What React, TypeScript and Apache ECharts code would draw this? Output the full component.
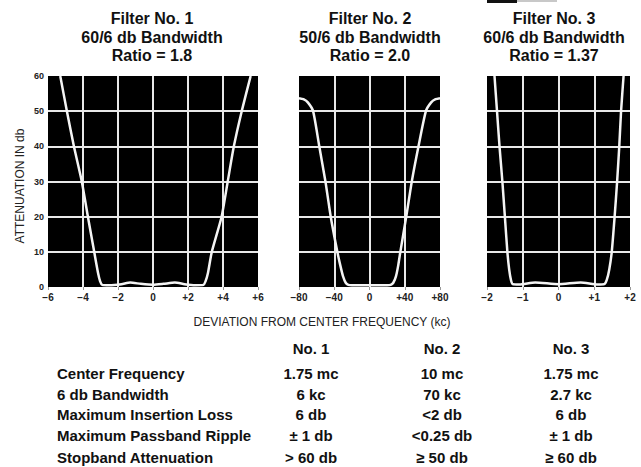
import React, { useEffect, useRef } from "react";
import * as echarts from "echarts";

// Filter No. 1 (deviation in kc, attenuation in db)
const F1_X = [-5.3, -4.92, -4.52, -4.07, -3.72, -3.36, -3.14, -3.02, -2.9, -2.5, -1.8, -1.3, -0.7, 0, 0.6, 1.25, 1.8, 2.4, 2.88, 3.0, 3.14, 3.36, 3.92, 4.27, 4.62, 5.07, 5.58];
const F1_Y = [60, 50, 40, 30, 20, 10, 4, 1.6, 0.6, 0.5, 0.8, 1.25, 0.9, 0.65, 0.9, 1.25, 0.8, 0.5, 0.6, 1.6, 4, 10, 20, 30, 40, 50, 60];

// Filter No. 2
const F2_X = [-80, -75, -70, -64, -57, -50, -44, -36.5, -33, -30, -27, -24, -20, 0, 20, 24, 27, 30, 32.5, 35, 41.7, 48, 55.6, 64, 70, 75, 80];
const F2_Y = [53.7, 53.4, 52.5, 50, 40, 30, 20, 10, 6, 3, 1.2, 0.6, 0.5, 0.5, 0.5, 0.6, 1.2, 3, 6, 10, 20, 30, 40, 50, 52.5, 53.4, 53.7];

// Filter No. 3
const F3_X = [-1.79, -1.72, -1.65, -1.57, -1.5, -1.43, -1.38, -1.33, -1.28, -1.1, -0.65, 0, 0.62, 1.1, 1.28, 1.35, 1.42, 1.49, 1.57, 1.64, 1.7, 1.75, 1.82];
const F3_Y = [60, 50, 40, 30, 20, 10, 5, 2, 0.8, 0.7, 1.3, 0.8, 1.3, 0.7, 0.8, 2, 5, 10, 20, 30, 40, 50, 60];

const X_TICKS_1 = ["\u22126", "\u22124", "\u22122", "0", "+2", "+4", "+6"];
const X_TICKS_2 = ["\u221280", "\u221240", "0", "+40", "+80"];
const X_TICKS_3 = ["\u22122", "\u22121", "0", "+1", "+2"];
const Y_TICKS = ["0", "10", "20", "30", "40", "50", "60"];

const TITLES = [
  ["Filter No. 1", "60/6 db Bandwidth", "Ratio = 1.8"],
  ["Filter No. 2", "50/6 db Bandwidth", "Ratio = 2.0"],
  ["Filter No. 3", "60/6 db Bandwidth", "Ratio = 1.37"],
];

const ROW_LABELS = [
  "Center Frequency",
  "6 db Bandwidth",
  "Maximum Insertion Loss",
  "Maximum Passband Ripple",
  "Stopband Attenuation",
];
const COL_HEADERS = ["No. 1", "No. 2", "No. 3"];
const COL_1 = ["1.75 mc", "6 kc", "6 db", "\u00b1 1 db", "> 60 db"];
const COL_2 = ["10 mc", "70 kc", "<2 db", "<0.25 db", "\u2265 50 db"];
const COL_3 = ["1.75 mc", "2.7 kc", "6 db", "\u00b1 1 db", "\u2265 60 db"];

const Y_TITLE = "ATTENUATION IN db";
const X_TITLE = "DEVIATION FROM CENTER FREQUENCY (kc)";

const FONT = "'Liberation Sans', Arial, sans-serif";

export default function App() {
  const ref = useRef<HTMLDivElement>(null);
  useEffect(() => {
    document.body.style.margin = "0";
    if (!ref.current) return;
    const chart = echarts.init(ref.current, undefined, { renderer: "svg" });

    const grids = [
      { left: 48, top: 76, width: 210, height: 211 },
      { left: 299, top: 76, width: 141, height: 211 },
      { left: 487, top: 76, width: 143, height: 211 },
    ];
    const xRanges = [
      { min: -6, max: 6, interval: 2, labels: X_TICKS_1 },
      { min: -80, max: 80, interval: 40, labels: X_TICKS_2 },
      { min: -2, max: 2, interval: 1, labels: X_TICKS_3 },
    ];
    const curves = [
      F1_X.map((x, i) => [x, F1_Y[i]]),
      F2_X.map((x, i) => [x, F2_Y[i]]),
      F3_X.map((x, i) => [x, F3_Y[i]]),
    ];
    const titleCenters = [152, 370, 554];

    const splitLine = {
      show: true,
      showMinLine: false,
      showMaxLine: false,
      lineStyle: { color: "#e8e8e8", width: 2 },
    };

    const graphics: any[] = [];
    TITLES.forEach((lines, p) => {
      lines.forEach((t, k) => {
        graphics.push({
          type: "text",
          x: titleCenters[p],
          y: [18, 37, 55][k],
          style: {
            text: t,
            fill: "#111",
            font: `bold 16px ${FONT}`,
            textAlign: "center",
            textVerticalAlign: "middle",
          },
        });
      });
    });
    graphics.push({
      type: "text",
      x: 20,
      y: 186,
      rotation: Math.PI / 2,
      style: {
        text: Y_TITLE,
        fill: "#222",
        font: `12px ${FONT}`,
        textAlign: "center",
        textVerticalAlign: "middle",
      },
    });
    graphics.push({
      type: "text",
      x: 322,
      y: 322,
      style: {
        text: X_TITLE,
        fill: "#222",
        font: `12px ${FONT}`,
        textAlign: "center",
        textVerticalAlign: "middle",
      },
    });
    const rowY = [373, 394, 414, 435, 457];
    const colX = [311, 442, 571];
    COL_HEADERS.forEach((h, c) => {
      graphics.push({
        type: "text",
        x: colX[c],
        y: 348,
        style: { text: h, fill: "#111", font: `bold 15px ${FONT}`, textAlign: "center", textVerticalAlign: "middle" },
      });
    });
    ROW_LABELS.forEach((r, i) => {
      graphics.push({
        type: "text",
        x: 57,
        y: rowY[i],
        style: { text: r, fill: "#111", font: `bold 15px ${FONT}`, textAlign: "left", textVerticalAlign: "middle" },
      });
    });
    [COL_1, COL_2, COL_3].forEach((col, c) => {
      col.forEach((v, i) => {
        graphics.push({
          type: "text",
          x: colX[c],
          y: rowY[i],
          style: { text: v, fill: "#111", font: `bold 15px ${FONT}`, textAlign: "center", textVerticalAlign: "middle" },
        });
      });
    });
    graphics.push({ type: "rect", shape: { x: 487, y: 0, width: 30, height: 3 }, style: { fill: "#111" } });
    graphics.push({ type: "rect", shape: { x: 517, y: 0, width: 40, height: 2 }, style: { fill: "#c8c8c8" } });

    chart.setOption({
      animation: false,
      backgroundColor: "#fff",
      grid: grids.map((g) => ({
        ...g,
        show: true,
        backgroundColor: "#000",
        borderWidth: 0,
        containLabel: false,
      })),
      xAxis: xRanges.map((r, i) => ({
        type: "value",
        gridIndex: i,
        min: r.min,
        max: r.max,
        interval: r.interval,
        axisLine: { show: false },
        axisTick: { show: true, length: 3, lineStyle: { color: "#999", width: 1 } },
        axisLabel: {
          show: true,
          margin: 5,
          color: "#222",
          fontFamily: FONT,
          fontWeight: "bold",
          fontSize: 10,
          formatter: (v: number) => r.labels[Math.round((v - r.min) / r.interval)] ?? "",
        },
        splitLine,
      })),
      yAxis: grids.map((_, i) => ({
        type: "value",
        gridIndex: i,
        min: 0,
        max: 60,
        interval: 10,
        axisLine: { show: false },
        axisTick: { show: false },
        axisLabel: {
          show: i === 0,
          margin: 4,
          color: "#222",
          fontFamily: FONT,
          fontWeight: "bold",
          fontSize: 9,
          formatter: (v: number) => Y_TICKS[Math.round(v / 10)] ?? "",
        },
        splitLine,
      })),
      series: curves.map((d, i) => ({
        type: "line",
        xAxisIndex: i,
        yAxisIndex: i,
        data: d,
        showSymbol: false,
        smooth: 0.2,
        clip: true,
        lineStyle: { color: "#f4f4f4", width: 2.5 },
      })),
      graphic: graphics,
    });

    return () => chart.dispose();
  }, []);
  return <div ref={ref} style={{ width: 641, height: 467 }} />;
}
